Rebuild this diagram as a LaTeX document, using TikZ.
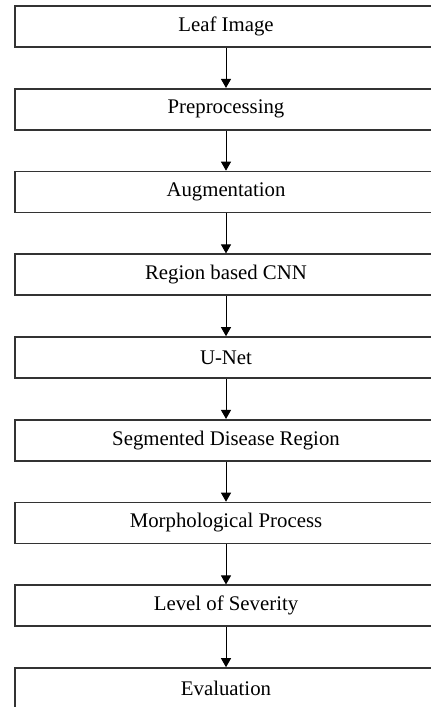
\documentclass[tikz,border=0pt]{standalone}
\usepackage{fontspec}
\setmainfont{Liberation Serif}
\usetikzlibrary{arrows.meta}
\tikzset{
  stage/.style={draw=black!80, line width=0.8pt, minimum width=211pt, minimum height=20.5pt, inner sep=0pt, font=\fontsize{10.4}{12}\selectfont},
  farrow/.style={-{Triangle[length=4.5pt,width=5pt]}, line width=0.5pt}
}
\begin{document}
\begin{tikzpicture}[x=0.5pt, y=-0.5pt]
    \useasboundingbox (0,0) rectangle (430,707);
    \node[stage] (s1) at (226,26.5) {Leaf Image};
    \node[stage] (s2) at (226,109.25) {Preprocessing};
    \node[stage] (s3) at (226,192) {Augmentation};
    \node[stage] (s4) at (226,274.75) {Region based CNN};
    \node[stage] (s5) at (226,357.5) {U-Net};
    \node[stage] (s6) at (226,440.25) {Segmented Disease Region};
    \node[stage] (s7) at (226,523) {Morphological Process};
    \node[stage] (s8) at (226,605.75) {Level of Severity};
    \node[stage] (s9) at (226,688.5) {Evaluation};
    \draw[farrow] (s1.south) -- (s2.north);
    \draw[farrow] (s2.south) -- (s3.north);
    \draw[farrow] (s3.south) -- (s4.north);
    \draw[farrow] (s4.south) -- (s5.north);
    \draw[farrow] (s5.south) -- (s6.north);
    \draw[farrow] (s6.south) -- (s7.north);
    \draw[farrow] (s7.south) -- (s8.north);
    \draw[farrow] (s8.south) -- (s9.north);
  \end{tikzpicture}
\end{document}
